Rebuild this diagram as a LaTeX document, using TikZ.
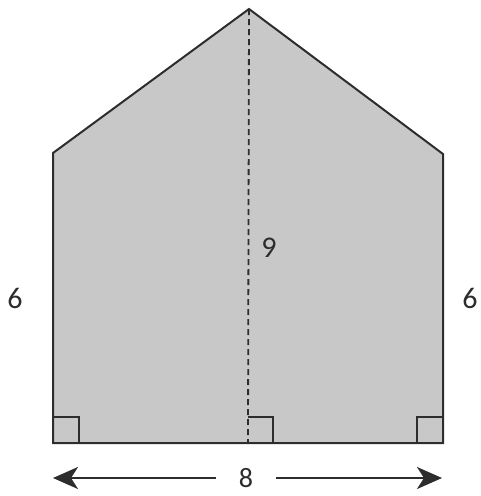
\documentclass[tikz,border=0pt]{standalone}
\usepackage{fontspec}
\setmainfont{Carlito}
\usetikzlibrary{arrows.meta}
\definecolor{fillgray}{RGB}{200,200,200}
\definecolor{inkgray}{RGB}{45,45,45}
\begin{document}
\begin{tikzpicture}[x=1pt,y=-1pt,
  outline/.style={draw=inkgray,line width=2pt,line join=miter},
  rightmark/.style={draw=inkgray,line width=1.3pt},
  lbl/.style={font=\fontsize{30}{30}\selectfont,text=inkgray,inner sep=0pt},
  dimarrow/.style={draw=inkgray,line width=2.2pt,-{Stealth[length=25pt,width=22pt,inset=7pt]}}]
\useasboundingbox (0,0) rectangle (481,496);
\coordinate (bl) at (53,443);
\coordinate (br) at (443,443);
\coordinate (rs) at (443,154);
\coordinate (ap) at (249,9);
\coordinate (ls) at (53,153);
\coordinate (bc) at (248,443);
\fill[fillgray] (bl) -- (br) -- (rs) -- (ap) -- (ls) -- cycle;
\draw[rightmark] (53,417) -- (79,417) -- (79,443);
\draw[rightmark] (248,417) -- (273,417) -- (273,443);
\draw[rightmark] (443,417) -- (417,417) -- (417,443);
\draw[inkgray,line width=1.8pt,dash pattern=on 6pt off 4pt] (ap) -- (bc);
\draw[outline] (bl) -- (br) -- (rs) -- (ap) -- (ls) -- cycle;
\node[lbl] (six1) at (15,298) {6};
\node[lbl] (six2) at (470,298) {6};
\node[lbl] (nine) at (269,248) {9};
\node[lbl,font=\fontsize{28}{28}\selectfont,inner xsep=23pt] (eight) at (246,478) {8};
\coordinate (al) at (53,478);
\coordinate (ar) at (442,478);
\draw[dimarrow] (eight.west) -- (al);
\draw[dimarrow] (eight.east) -- (ar);
\end{tikzpicture}
\end{document}
